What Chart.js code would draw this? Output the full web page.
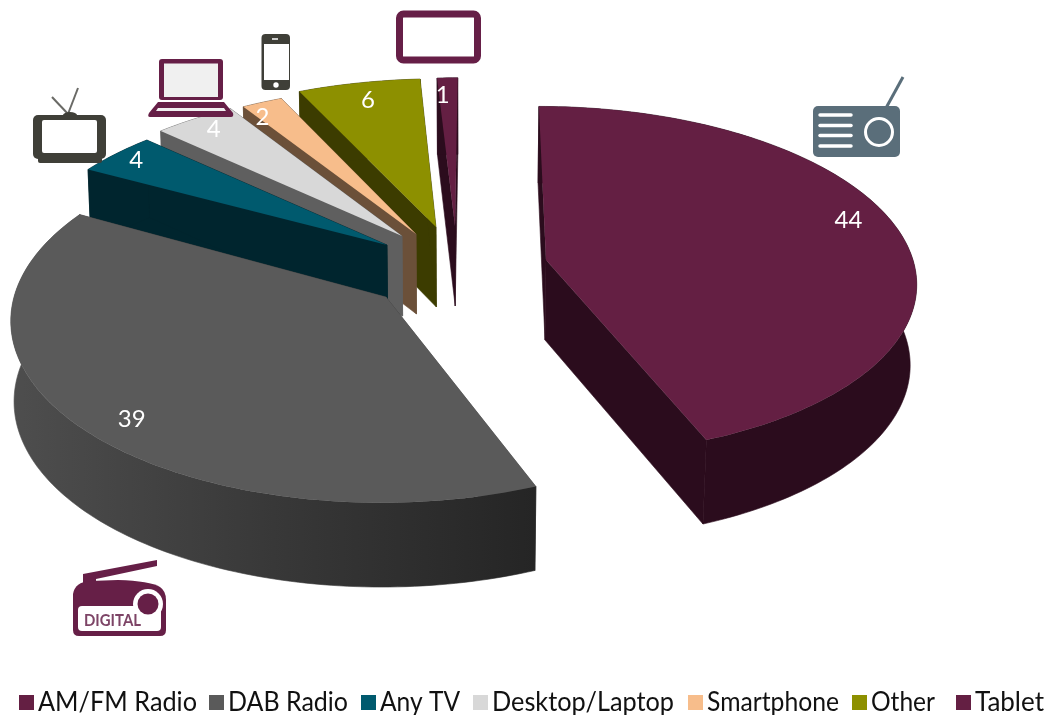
<!DOCTYPE html>
<html>
<head>
<meta charset="utf-8">
<title>Listening by device</title>
<script src="https://cdn.jsdelivr.net/npm/chart.js@4"></script>
<style>
  html, body { margin: 0; background: #fff; }
  #wrap { position: relative; width: 1050px; height: 715px; overflow: hidden; }
  #pie { position: absolute; left: 0; top: 0; }
  #icons { position: absolute; left: 0; top: 0; }
</style>
</head>
<body>
<div id="wrap">
  <canvas id="pie" width="1050" height="715"></canvas>
  <!-- device icons above the slices -->
  <svg id="icons" width="1050" height="715" viewBox="0 0 1050 715">
    <!-- analogue radio -->
    <line x1="886" y1="108" x2="903" y2="77" stroke="#5a6e7a" stroke-width="3"/>
    <rect x="813" y="106" width="87" height="51" rx="5" fill="#5a6e7a"/>
    <g stroke="#fff" stroke-width="3.5" stroke-linecap="round">
      <line x1="820" y1="115" x2="851" y2="115"/>
      <line x1="820" y1="125.500" x2="851" y2="125.500"/>
      <line x1="820" y1="135.500" x2="851" y2="135.500"/>
      <line x1="820" y1="146" x2="851" y2="146"/>
    </g>
    <circle cx="879" cy="132" r="13.500" fill="none" stroke="#fff" stroke-width="3"/>
    <!-- digital radio -->
    <path d="M83 574 L157 560 L157 566 L96 579 L96 584 L83 584 Z" fill="#661f47"/>
    <path d="M73 594 Q75 582 90 581 L118 580 Q150 581 160 587 Q166 591 166 600 L166 630 Q166 636 160 636 L79 636 Q73 636 73 630 Z" fill="#661f47"/>
    <rect x="78" y="606" width="83" height="25" rx="4" fill="#fff"/>
    <circle cx="148" cy="604" r="15" fill="#fff"/>
    <circle cx="148" cy="604" r="10.500" fill="#661f47"/>
    <text x="84" y="626" font-family="Lato" font-weight="700" font-size="17" fill="#7d4466" textLength="57" lengthAdjust="spacingAndGlyphs">DIGITAL</text>
    <!-- television -->
    <g stroke="#6a6a66" stroke-width="2">
      <line x1="68" y1="114" x2="52" y2="97"/>
      <line x1="68" y1="114" x2="78" y2="88"/>
    </g>
    <ellipse cx="70" cy="115" rx="7" ry="3" fill="#3f3f38"/>
    <rect x="33" y="115" width="73" height="44" rx="5" fill="#3f3f38"/>
    <rect x="38" y="155" width="64" height="8" rx="2" fill="#3f3f38"/>
    <rect x="42" y="120" width="55" height="33" rx="2" fill="#fff"/>
    <!-- laptop -->
    <rect x="159" y="59" width="64" height="41" rx="3" fill="#661f47"/>
    <rect x="164" y="63.500" width="54" height="33.500" fill="#f0f0f0"/>
    <path d="M158 102 L224 102 L233 113 Q234 117 231 117 L150 117 Q147 117 149 113 Z" fill="#661f47"/>
    <path d="M156 111 L158 108 L224 108 L226 111 Z" fill="#f0f0f0"/>
    <!-- smartphone -->
    <rect x="261.500" y="34" width="28.500" height="56" rx="4" fill="#3f3f38"/>
    <rect x="264" y="44" width="25" height="36" fill="#fff"/>
    <circle cx="276" cy="85" r="2.700" fill="#fff"/>
    <line x1="272" y1="39" x2="278" y2="39" stroke="#fff" stroke-width="1.500"/>
    <!-- tablet -->
    <rect x="399.500" y="14" width="78" height="46" rx="4" fill="#fff" stroke="#661f47" stroke-width="7"/>
  </svg>
</div>
<script>
const categories = ['AM/FM Radio', 'DAB Radio', 'Any TV', 'Desktop/Laptop', 'Smartphone', 'Other', 'Tablet'];
const shareValues = [44, 39, 4, 4, 2, 6, 1];
const sliceColors = ['#641f43', '#5a5a5a', '#005a6e', '#d8d8d8', '#f7bd8b', '#8d9000', '#641f43'];
const wallColors = ['#2b0c1d', '#444444', '#00252e', '#5f5f5f', '#6b5039', '#3c3c00', '#2b0c1d'];

// Projection of the tilted pie: unit disc -> page, with mild perspective
const VANISH_X = 480;
const PERSPECTIVE = 0.12;
const RADIUS_X = 367;
const RADIUS_Y = 166;
const DEPTH = 80;
const LOWER_FACE_SCALE = 0.992;

// Where each exploded slice has its tip, and where its number sits (fraction of the sweep, radius)
const sliceLayout = [
  { x: 546, y: 260, ry: 172, lowScale: 0.985, label: [0.47, 0.885] },
  { x: 386, y: 297, rx: 372, ry: 181, vx: 420, label: [0.474, 0.885], rim: ['#4e4e4e', '#383838', '#252525'] },
  { x: 387, y: 245, label: [0.5, 0.92] },
  { x: 402, y: 236, label: [0.5, 0.9] },
  { x: 416, y: 234, label: [0.1, 0.9] },
  { x: 436, y: 227, label: [0.5, 0.87] },
  { x: 455, y: 226, label: [0.2, 0.87] }
];

// Legend row: left edge and text width of each entry
const legendLeft = [19, 209, 361, 473, 688, 852, 956];
const legendWidths = [159, 120, 80, 182, 132, 64, 71];

function project(slice, u, v, lowered) {
  const vx = slice.vx || VANISH_X;
  const s = 1 / (1 - PERSPECTIVE * v);
  let x = vx + (slice.x - vx + (slice.rx || RADIUS_X) * u) * s;
  let y = slice.y + (slice.ry || RADIUS_Y) * v * s;
  if (lowered) {
    y += DEPTH * (1 + 0.4 * (s - 1));
    x = vx + (x - vx) * (slice.lowScale || LOWER_FACE_SCALE);
  }
  return [x, y];
}

function tracePoints(ctx, pts) {
  ctx.beginPath();
  pts.forEach((p, i) => (i ? ctx.lineTo(p[0], p[1]) : ctx.moveTo(p[0], p[1])));
  ctx.closePath();
}

function rimAngles(arc) {
  const out = [];
  const steps = Math.max(4, Math.ceil((arc.endAngle - arc.startAngle) / 0.02));
  for (let i = 0; i <= steps; i++) {
    out.push(arc.startAngle + (arc.endAngle - arc.startAngle) * i / steps);
  }
  return out;
}

function drawSlice(ctx, arc, i) {
  const slice = sliceLayout[i];
  const angles = rimAngles(arc);
  const top = angles.map(a => project(slice, Math.cos(a), Math.sin(a), false));
  const low = angles.map(a => project(slice, Math.cos(a), Math.sin(a), true));
  const tip = project(slice, 0, 0, false);
  const tipLow = project(slice, 0, 0, true);
  const last = top.length - 1;

  // radial walls, stroked a little so no pale seam shows under the top face
  ctx.fillStyle = wallColors[i];
  ctx.strokeStyle = wallColors[i];
  ctx.lineWidth = 0.6;
  tracePoints(ctx, [tip, top[0], low[0], tipLow]);
  ctx.fill();
  ctx.stroke();
  tracePoints(ctx, [tip, top[last], low[last], tipLow]);
  ctx.fill();
  ctx.stroke();

  // curved outer wall
  if (slice.rim) {
    const xs = top.map(p => p[0]);
    const grad = ctx.createLinearGradient(Math.min(...xs), 0, Math.max(...xs), 0);
    slice.rim.forEach((c, k) => grad.addColorStop(k / (slice.rim.length - 1), c));
    ctx.fillStyle = grad;
    ctx.strokeStyle = grad;
  }
  tracePoints(ctx, top.concat(low.slice().reverse()));
  ctx.fill();
  ctx.stroke();

  // top face
  ctx.fillStyle = sliceColors[i];
  tracePoints(ctx, [tip].concat(top));
  ctx.fill();
}

const pie3d = {
  id: 'pie3d',
  beforeDatasetDraw(chart, args) {
    const ctx = chart.ctx;
    const arcs = chart.getDatasetMeta(args.index).data;
    ctx.save();
    // far slices first, the two big ones last
    for (let i = arcs.length - 1; i >= 0; i--) {
      drawSlice(ctx, arcs[i], i);
    }
    // value labels
    ctx.fillStyle = '#fff';
    ctx.font = '24px Lato';
    ctx.textAlign = 'center';
    ctx.textBaseline = 'middle';
    arcs.forEach((arc, i) => {
      const slice = sliceLayout[i];
      const a = arc.startAngle + (arc.endAngle - arc.startAngle) * slice.label[0];
      const r = slice.label[1];
      const p = project(slice, r * Math.cos(a), r * Math.sin(a), false);
      ctx.fillText(String(shareValues[i]), p[0], p[1]);
    });
    ctx.restore();
    return false;
  },
  afterDraw(chart) {
    const ctx = chart.ctx;
    ctx.save();
    ctx.font = '26px Lato';
    ctx.textBaseline = 'middle';
    ctx.textAlign = 'left';
    chart.data.labels.forEach((name, i) => {
      ctx.fillStyle = sliceColors[i];
      ctx.fillRect(legendLeft[i], 695, 15, 15);
      ctx.fillStyle = '#111';
      ctx.fillText(name, legendLeft[i] + 19, 703, legendWidths[i]);
    });
    ctx.restore();
  }
};

new Chart(document.getElementById('pie'), {
  type: 'pie',
  data: {
    labels: categories,
    datasets: [{ data: shareValues, backgroundColor: sliceColors, borderWidth: 0 }]
  },
  options: {
    responsive: false,
    animation: false,
    plugins: { legend: { display: false }, tooltip: { enabled: false } }
  },
  plugins: [pie3d]
});
</script>
</body>
</html>
